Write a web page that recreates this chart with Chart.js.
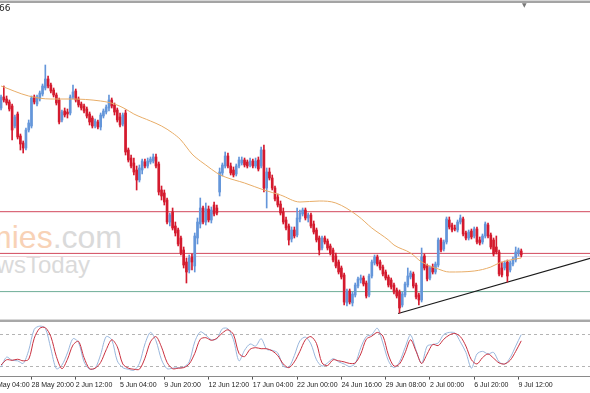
<!DOCTYPE html>
<html>
<head>
<meta charset="utf-8">
<script src="https://cdn.jsdelivr.net/npm/chart.js@4.4.1/dist/chart.umd.min.js"></script>
<style>
  html, body { margin: 0; padding: 0; background: #fff; }
  #wrap { position: relative; width: 590px; height: 393px; overflow: hidden; background: #fff; }
  .band { position: absolute; left: 0; width: 590px; }
  #mainBox { position: absolute; left: 0; top: 0; width: 590px; height: 320px; }
  #oscBox { position: absolute; left: 0; top: 323px; width: 590px; height: 70px; }
  .wm { position: absolute; font-family: "Liberation Sans", Arial, sans-serif; white-space: nowrap; line-height: 1; text-align: right; }
  #price { position: absolute; left: -1px; top: 3px; font: 9px "DejaVu Sans", sans-serif; color: #222; }
  #shift { position: absolute; left: 522px; top: 1px; font: 6px "DejaVu Sans", sans-serif; color: #777; }
</style>
</head>
<body>
<div id="wrap">
  <div class="wm" style="right:468px; top:221px; font-size:32px;"><span style="color:#f8d2b6">Economies</span><span style="color:#dadada">.com</span></div>
  <div class="wm" style="right:500px; top:253px; font-size:24px; color:#dadada;">NewsToday</div>
  <div id="mainBox"><canvas id="mainChart"></canvas></div>
  <div class="band" style="top:0; height:1px; background:#d6d6d6;"></div>
  <div class="band" style="top:1px; height:2px; background:#a4a4a4;"></div>
  <div class="band" style="top:319px; height:1px; background:#d8d8d8;"></div>
  <div class="band" style="top:320px; height:2px; background:#a8a8a8;"></div>
  <div id="oscBox"><canvas id="oscChart"></canvas></div>
  <div id="price">66</div>
  <div id="shift">▼</div>
</div>
<script>
// H4 candles, 27 May - 9 Jul (index 0 = first visible bar)
const open = [
  222, 233, 231, 228, 224, 204, 216, 194, 187, 182,
  200, 204, 233, 226, 231, 236, 242, 251, 245, 240,
  235, 230, 210, 219, 218, 217, 233, 239, 231, 226,
  224, 221, 216, 212, 204, 208, 203, 214, 218, 222,
  230, 225, 220, 213, 206, 217, 180, 172, 167, 160,
  150, 160, 168, 164, 168, 169, 173, 166, 140, 137,
  130, 108, 118, 104, 100, 92, 80, 68, 60, 73,
  64, 92, 106, 122, 108, 121, 110, 125, 122, 138,
  157, 164, 174, 164, 160, 156, 164, 167, 170, 168,
  165, 169, 164, 170, 164, 180, 142, 158, 152, 142,
  133, 126, 118, 110, 104, 91, 100, 95, 111, 116,
  120, 112, 115, 106, 100, 92, 82, 92, 89, 84,
  80, 74, 68, 62, 55, 27, 39, 27, 35, 44,
  50, 52, 47, 35, 54, 67, 73, 68, 63, 58,
  53, 50, 45, 40, 38, 25, 35, 45, 53, 56,
  45, 35, 30, 74, 64, 52, 63, 58, 65, 90,
  81, 88, 110, 105, 102, 100, 108, 111, 97, 92,
  99, 94, 101, 90, 88, 94, 105, 95, 90, 83,
  78, 62, 62, 68, 60, 66, 70, 77, 79
];
const close = [
  233, 230, 227, 221, 200, 213, 193, 186, 182, 200,
  207, 232, 228, 233, 237, 244, 251, 244, 239, 235,
  227, 208, 218, 215, 216, 233, 238, 230, 225, 222,
  219, 214, 208, 204, 209, 203, 215, 219, 223, 230,
  224, 218, 210, 205, 215, 178, 170, 164, 158, 150,
  162, 169, 164, 169, 171, 173, 164, 138, 134, 128,
  108, 115, 102, 97, 86, 77, 65, 58, 72, 68,
  94, 108, 122, 108, 121, 110, 120, 116, 117, 158,
  165, 174, 164, 157, 155, 164, 170, 170, 165, 164,
  169, 164, 169, 161, 180, 142, 158, 152, 142, 131,
  125, 117, 108, 102, 90, 100, 94, 112, 117, 120,
  112, 115, 104, 98, 90, 80, 92, 88, 82, 77,
  70, 64, 58, 53, 28, 39, 28, 36, 45, 51,
  52, 46, 34, 54, 68, 73, 66, 62, 56, 52,
  45, 43, 38, 34, 22, 36, 46, 54, 57, 44,
  33, 30, 73, 62, 51, 62, 58, 66, 90, 80,
  88, 111, 103, 100, 101, 108, 112, 96, 92, 98,
  93, 101, 88, 87, 94, 106, 94, 83, 76, 78,
  56, 55, 67, 54, 67, 71, 78, 80, 75
];
const high = [
  235, 244, 234, 230, 226, 215, 218, 196, 189, 202,
  210, 234, 235, 235, 239, 246, 265, 254, 247, 242,
  237, 232, 220, 222, 221, 235, 245, 241, 233, 228,
  226, 223, 218, 214, 211, 210, 217, 221, 225, 235,
  232, 227, 222, 217, 217, 220, 182, 175, 172, 164,
  165, 171, 171, 172, 173, 176, 176, 168, 144, 140,
  132, 117, 122, 108, 102, 94, 83, 72, 75, 76,
  97, 112, 132, 124, 127, 124, 123, 128, 125, 162,
  167, 178, 177, 167, 163, 166, 173, 173, 172, 170,
  172, 171, 172, 173, 183, 185, 162, 162, 155, 144,
  136, 129, 122, 113, 106, 103, 103, 122, 120, 122,
  122, 117, 117, 109, 102, 94, 94, 94, 91, 86,
  82, 77, 70, 64, 57, 41, 41, 38, 47, 53,
  55, 54, 49, 56, 70, 75, 75, 70, 65, 60,
  55, 52, 47, 42, 40, 38, 48, 62, 59, 58,
  47, 37, 82, 76, 66, 64, 66, 68, 92, 92,
  90, 113, 113, 107, 105, 110, 115, 113, 99, 100,
  101, 103, 103, 93, 96, 108, 107, 97, 92, 94,
  80, 68, 69, 70, 69, 73, 83, 82, 81
];
const low = [
  220, 228, 225, 219, 190, 202, 191, 180, 177, 180,
  198, 202, 226, 224, 229, 234, 240, 242, 237, 233,
  225, 206, 208, 213, 212, 215, 231, 228, 223, 220,
  217, 212, 205, 202, 202, 201, 200, 212, 216, 219,
  222, 215, 208, 203, 204, 175, 168, 162, 155, 140,
  148, 156, 162, 162, 166, 167, 162, 135, 130, 125,
  106, 104, 100, 94, 84, 75, 62, 47, 57, 60,
  58, 86, 102, 106, 105, 108, 107, 114, 115, 134,
  154, 162, 162, 155, 153, 154, 162, 165, 163, 162,
  163, 162, 162, 159, 162, 138, 122, 150, 140, 129,
  123, 115, 106, 100, 85, 88, 92, 93, 108, 114,
  110, 108, 102, 96, 88, 75, 80, 86, 80, 75,
  68, 62, 56, 51, 25, 24, 26, 24, 33, 42,
  47, 44, 32, 33, 52, 65, 64, 60, 54, 50,
  43, 41, 36, 32, 17, 23, 33, 43, 51, 42,
  31, 25, 28, 60, 49, 50, 56, 56, 63, 78,
  79, 86, 101, 98, 99, 98, 106, 94, 90, 90,
  91, 92, 86, 85, 86, 92, 92, 81, 74, 76,
  54, 53, 60, 48, 58, 64, 68, 74, 73
];

// moving average, read at these bars
const maBars = [0, 10, 18, 25, 36, 41, 45, 48, 54, 58, 62, 65, 67, 69, 72, 74, 78, 81, 88, 95,
  101, 108, 115, 121, 129, 134, 140, 142, 148, 152, 158, 162, 171, 177, 180, 184, 188];
const maValues = [244, 234, 231, 231, 229, 226, 221, 216, 209, 204, 197, 190, 183, 176, 169, 165, 157, 153, 147, 140,
  135, 128, 129, 127, 114, 102, 90, 85, 77, 68, 61, 58, 59, 63, 67, 70, 72];

// horizontal levels and the rising trend line
const levels = [118.3, 76.6, 73.5, 38.4];
const trendLine = [[143.5, 16.5], [213, 71.8]];

// stochastic, one reading every 2 bars
const stochMain = [
  18, 37, 31, 30, 25, 50, 90, 96, 92, 53,
  15, 22, 45, 72, 65, 28, 14, 16, 42, 76,
  70, 30, 17, 14, 12, 25, 62, 84, 68, 32,
  15, 16, 17, 18, 28, 66, 85, 79, 70, 72,
  91, 91, 70, 30, 50, 62, 58, 72, 52, 50,
  45, 20, 18, 40, 68, 75, 62, 32, 20, 26,
  34, 28, 24, 19, 25, 55, 76, 80, 92, 64,
  30, 17, 28, 55, 79, 50, 25, 58, 61, 64,
  80, 84, 83, 66, 46, 16, 43, 48, 43, 46,
  28, 24, 36, 58, 80
];
const stochSignal = [
  22, 32, 31, 33, 30, 33, 73, 92, 93, 76,
  38, 15, 33, 60, 67, 36, 15, 16, 27, 51,
  70, 57, 24, 16, 14, 14, 35, 66, 76, 56,
  27, 15, 16, 17, 24, 44, 71, 74, 69, 73,
  83, 89, 80, 44, 38, 52, 55, 53, 53, 49,
  40, 24, 17, 28, 48, 70, 76, 63, 26, 21,
  32, 30, 28, 25, 26, 43, 71, 77, 84, 77,
  41, 20, 24, 45, 70, 48, 25, 43, 61, 59,
  71, 79, 82, 76, 58, 32, 24, 36, 43, 35,
  26, 24, 31, 48, 68
];
const stochStep = 2;
const stochLevels = [20, 80];

// time axis: one label every 16 bars, first one at bar -5
const tickLabels = ['26 May 04:00', '28 May 20:00', '2 Jun 12:00', '5 Jun 04:00', '9 Jun 20:00', '12 Jun 12:00',
  '17 Jun 04:00', '22 Jun 00:00', '24 Jun 16:00', '29 Jun 08:00', '2 Jul 00:00', '6 Jul 20:00', '9 Jul 12:00'];
const firstTickBar = -5;
const barsPerTick = 16;

const upColor = '#6496da';
const downColor = '#d41a2e';
const levelColors = ['#d2485c', '#d2485c', '#efd0d5', '#6fae98'];
const xMin = -0.38, xMax = 212.85;

const candleColor = ctx => (close[ctx.dataIndex] >= open[ctx.dataIndex] ? upColor : downColor);

const levelSets = levels.map((v, n) => ({
  type: 'line',
  data: [{ x: xMin, y: v }, { x: xMax, y: v }],
  borderColor: levelColors[n],
  borderWidth: 1,
  pointRadius: 0,
  order: 6
}));

new Chart(document.getElementById('mainChart'), {
  type: 'bar',
  data: {
    datasets: [
      ...levelSets,
      {
        type: 'line',
        data: trendLine.map(p => ({ x: p[0], y: p[1] })),
        borderColor: '#1a1a1a',
        borderWidth: 1.2,
        pointRadius: 0,
        order: 5
      },
      {
        label: 'wick',
        data: low.map((l, i) => ({ x: i, y: [l, high[i]] })),
        backgroundColor: candleColor,
        barThickness: 1,
        order: 3
      },
      {
        label: 'body',
        data: open.map((o, i) => ({ x: i, y: [o, close[i]] })),
        backgroundColor: candleColor,
        barThickness: 2,
        minBarLength: 1,
        order: 2
      },
      {
        type: 'line',
        label: 'MA',
        data: maBars.map((b, n) => ({ x: b, y: maValues[n] })),
        borderColor: '#e8ad68',
        borderWidth: 1,
        pointRadius: 0,
        cubicInterpolationMode: 'monotone',
        order: 1
      }
    ]
  },
  options: {
    animation: false,
    responsive: true,
    maintainAspectRatio: false,
    events: [],
    layout: { padding: 0 },
    plugins: { legend: { display: false }, tooltip: { enabled: false } },
    datasets: { bar: { grouped: false, borderWidth: 0 } },
    scales: {
      x: { type: 'linear', min: xMin, max: xMax, offset: false, display: false },
      y: { min: 10, max: 330, display: false }
    }
  }
});

const stochPoints = arr => arr.map((v, j) => ({ x: j * stochStep, y: v }));

new Chart(document.getElementById('oscChart'), {
  type: 'line',
  data: {
    datasets: [
      { data: stochPoints(stochSignal), borderColor: '#c9303f', borderWidth: 1, pointRadius: 0, tension: 0.3 },
      { data: stochPoints(stochMain), borderColor: '#98b6dc', borderWidth: 1, pointRadius: 0, tension: 0.3 }
    ]
  },
  options: {
    animation: false,
    responsive: true,
    maintainAspectRatio: false,
    events: [],
    layout: { padding: { top: 1, bottom: 3, left: 0, right: 0 } },
    plugins: { legend: { display: false }, tooltip: { enabled: false } },
    scales: {
      x: {
        type: 'linear', min: xMin, max: xMax, offset: false,
        afterBuildTicks: s => { s.ticks = tickLabels.map((t, n) => ({ value: firstTickBar + n * barsPerTick })); },
        afterFit: s => { s.paddingLeft = 0; s.paddingRight = 0; },
        ticks: {
          autoSkip: false, maxRotation: 0, minRotation: 0, align: 'start', padding: 1,
          color: '#222', font: { family: 'Liberation Sans', size: 7 },
          callback: (v, n) => tickLabels[n]
        },
        grid: { drawOnChartArea: false, drawTicks: true, tickLength: 3, tickColor: '#555' },
        border: { display: true, color: '#8a8a8a', width: 1 }
      },
      y: {
        min: 0, max: 100,
        afterBuildTicks: s => { s.ticks = stochLevels.map(v => ({ value: v })); },
        afterFit: s => { s.width = 0; },
        ticks: { display: false },
        grid: { color: '#b4b4b4', drawTicks: false },
        border: { display: false, dash: [3, 3] }
      }
    }
  }
});
</script>
</body>
</html>
